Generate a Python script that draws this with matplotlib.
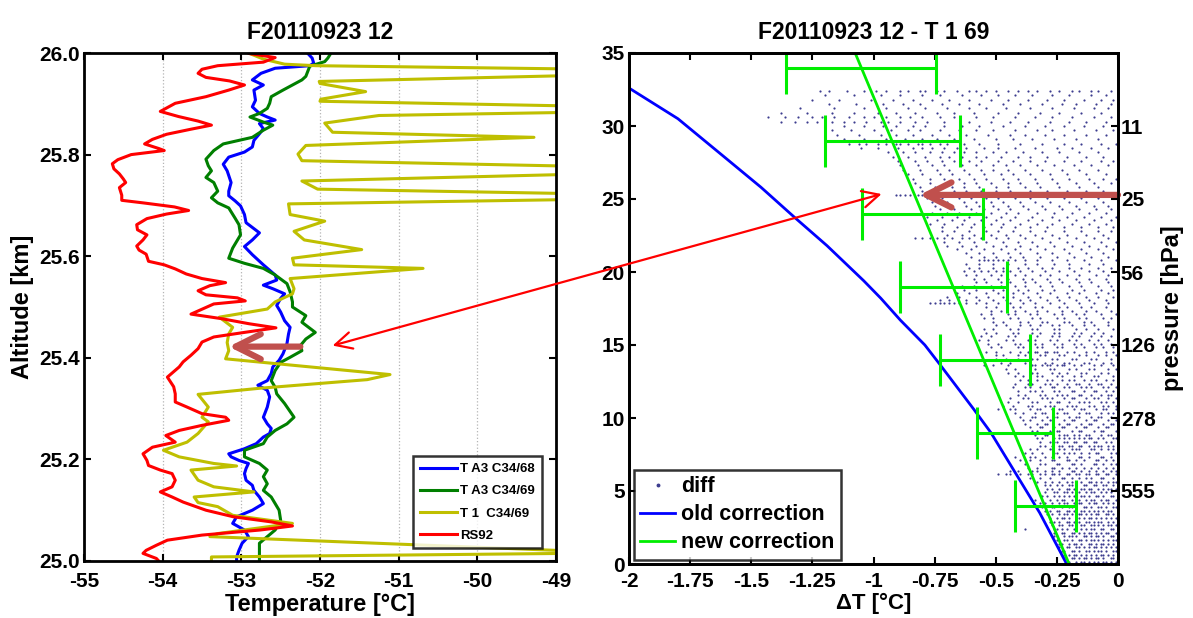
import numpy as np
import matplotlib
matplotlib.use('Agg')
import matplotlib.pyplot as plt
from matplotlib.patches import ConnectionPatch, ArrowStyle
from matplotlib.lines import Line2D

plt.rcParams['font.family'] = ['Liberation Sans', 'DejaVu Sans']
plt.rcParams['font.weight'] = 'bold'
plt.rcParams['axes.labelweight'] = 'bold'
plt.rcParams['axes.titleweight'] = 'bold'
plt.rcParams['axes.unicode_minus'] = False

# ---------------- left panel data ----------------
left_title = "F20110923 12"
rs92_alt = [25.999, 25.991, 25.982, 25.975, 25.968, 25.960, 25.952, 25.945, 25.937, 25.927,
            25.914, 25.901, 25.885, 25.875, 25.866, 25.858, 25.850, 25.840, 25.830, 25.821,
            25.812, 25.808, 25.800, 25.790, 25.782, 25.772, 25.762, 25.752, 25.745, 25.735,
            25.720, 25.710, 25.705, 25.697, 25.690, 25.683, 25.674, 25.662, 25.652, 25.642,
            25.632, 25.620, 25.612, 25.604, 25.590, 25.583, 25.575, 25.565, 25.556, 25.548,
            25.542, 25.532, 25.524, 25.518, 25.512, 25.506, 25.486, 25.477, 25.467, 25.459,
            25.450, 25.441, 25.431, 25.418, 25.405, 25.392, 25.382, 25.362, 25.343, 25.329,
            25.313, 25.303, 25.290, 25.283, 25.277, 25.267, 25.257, 25.247, 25.234, 25.224,
            25.211, 25.198, 25.188, 25.179, 25.172, 25.159, 25.146, 25.136, 25.126, 25.116,
            25.100, 25.087, 25.077, 25.069, 25.061, 25.051, 25.041, 25.031, 25.021, 25.015,
            25.005, 25.000]
rs92_T = [-52.90, -52.57, -52.72, -53.30, -53.50, -53.55, -53.45, -53.15, -52.96, -53.16,
          -53.45, -53.84, -54.03, -53.80, -53.55, -53.38, -53.64, -53.95, -54.13, -54.23,
          -54.05, -53.98, -54.40, -54.57, -54.64, -54.62, -54.55, -54.50, -54.47, -54.55,
          -54.52, -54.52, -54.25, -53.85, -53.67, -53.95, -54.20, -54.33, -54.32, -54.20,
          -54.25, -54.33, -54.30, -54.21, -54.18, -53.98, -53.84, -53.70, -53.50, -53.20,
          -53.40, -53.55, -53.45, -53.05, -52.95, -53.35, -53.64, -53.25, -52.90, -52.56,
          -52.96, -53.35, -53.50, -53.55, -53.64, -53.74, -53.79, -53.94, -53.86, -53.84,
          -53.84, -53.69, -53.50, -53.20, -53.16, -53.50, -53.79, -53.96, -53.84, -54.13,
          -54.25, -54.20, -54.18, -54.03, -53.88, -53.84, -53.88, -54.03, -53.88, -53.74,
          -53.45, -53.10, -52.62, -52.35, -52.76, -53.50, -53.94, -54.08, -54.21, -54.25,
          -54.08, -54.05]

a3_68_alt = [26.000, 25.990, 25.980, 25.975, 25.970, 25.960, 25.947, 25.937, 25.927, 25.907,
             25.894, 25.881, 25.874, 25.868, 25.861, 25.851, 25.841, 25.828, 25.815, 25.805,
             25.795, 25.781, 25.768, 25.745, 25.728, 25.719, 25.709, 25.699, 25.682, 25.666,
             25.646, 25.632, 25.619, 25.603, 25.583, 25.563, 25.553, 25.543, 25.536, 25.526,
             25.517, 25.503, 25.490, 25.473, 25.460, 25.447, 25.428, 25.408, 25.395, 25.382,
             25.369, 25.355, 25.346, 25.336, 25.323, 25.303, 25.283, 25.270, 25.261, 25.251,
             25.244, 25.231, 25.221, 25.211, 25.205, 25.198, 25.192, 25.182, 25.172, 25.159,
             25.149, 25.139, 25.126, 25.113, 25.100, 25.087, 25.074, 25.061, 25.048, 25.035,
             25.021, 25.008, 25.000]
a3_68_T = [-52.16, -52.10, -52.08, -52.13, -52.57, -52.75, -52.86, -52.72, -52.84, -52.82,
           -52.86, -52.77, -52.67, -52.57, -52.77, -52.72, -52.77, -52.84, -52.86, -52.96,
           -53.16, -53.23, -53.18, -53.13, -53.16, -53.16, -53.08, -53.01, -52.96, -52.94,
           -52.77, -52.86, -52.96, -52.86, -52.72, -52.57, -52.55, -52.72, -52.60, -52.45,
           -52.50, -52.55, -52.50, -52.45, -52.38, -52.40, -52.42, -52.47, -52.52, -52.60,
           -52.62, -52.67, -52.79, -52.67, -52.64, -52.67, -52.72, -52.67, -52.62, -52.64,
           -52.72, -52.81, -52.96, -53.16, -53.13, -53.03, -52.91, -52.94, -52.96, -52.94,
           -52.86, -52.84, -52.77, -52.72, -52.86, -53.06, -53.11, -52.96, -52.91, -52.99,
           -53.03, -53.06, -53.06]

a3_69_alt = [26.000, 25.990, 25.983, 25.974, 25.954, 25.947, 25.927, 25.914, 25.901, 25.891,
             25.881, 25.874, 25.864, 25.858, 25.848, 25.834, 25.821, 25.808, 25.791, 25.778,
             25.768, 25.755, 25.745, 25.728, 25.715, 25.705, 25.695, 25.675, 25.662, 25.642,
             25.616, 25.596, 25.586, 25.576, 25.563, 25.546, 25.530, 25.510, 25.500, 25.483,
             25.470, 25.450, 25.437, 25.424, 25.414, 25.401, 25.391, 25.375, 25.355, 25.342,
             25.329, 25.310, 25.283, 25.270, 25.257, 25.244, 25.231, 25.218, 25.205, 25.192,
             25.179, 25.166, 25.152, 25.139, 25.126, 25.113, 25.100, 25.080, 25.061, 25.048,
             25.035, 25.000]
a3_69_T = [-51.86, -51.90, -51.94, -52.13, -52.18, -52.23, -52.47, -52.62, -52.64, -52.67,
           -52.77, -52.89, -52.72, -52.60, -52.72, -52.86, -53.23, -53.35, -53.45, -53.42,
           -53.38, -53.45, -53.35, -53.30, -53.38, -53.30, -53.16, -53.08, -53.03, -53.01,
           -53.11, -53.16, -52.96, -52.72, -52.57, -52.42, -52.38, -52.35, -52.35, -52.18,
           -52.23, -52.06, -52.18, -52.25, -52.23, -52.38, -52.50, -52.57, -52.62, -52.57,
           -52.55, -52.45, -52.33, -52.42, -52.57, -52.67, -52.72, -52.96, -52.96, -52.77,
           -52.67, -52.72, -52.67, -52.72, -52.62, -52.57, -52.52, -52.50, -52.57, -52.67,
           -52.77, -52.77]

t1_69_alt = [26.000, 25.988, 25.978, 25.975, 25.964, 25.944, 25.940, 25.924, 25.909, 25.905,
             25.889, 25.877, 25.862, 25.844, 25.834, 25.818, 25.801, 25.788, 25.770, 25.748,
             25.732, 25.717, 25.703, 25.682, 25.669, 25.649, 25.632, 25.613, 25.596, 25.583,
             25.576, 25.556, 25.536, 25.526, 25.510, 25.496, 25.480, 25.460, 25.447, 25.430,
             25.414, 25.398, 25.367, 25.357, 25.340, 25.328, 25.303, 25.283, 25.274, 25.251,
             25.234, 25.218, 25.205, 25.192, 25.187, 25.179, 25.159, 25.146, 25.136, 25.126,
             25.115, 25.107, 25.090, 25.074, 25.054, 25.048, 25.016, 25.008, 25.000]
t1_69_T = [-52.91, -52.72, -52.45, -52.05, -46.50, -52.01, -52.00, -51.42, -51.99, -52.00,
           -46.50, -51.25, -51.94, -51.84, -49.28, -52.18, -52.28, -52.23, -46.50, -52.23,
           -52.03, -46.50, -52.40, -52.38, -51.94, -52.33, -52.20, -51.47, -52.35, -52.33,
           -50.69, -52.38, -52.33, -52.35, -52.57, -52.67, -53.28, -53.11, -53.16, -53.18,
           -53.16, -53.20, -51.11, -51.40, -52.77, -53.55, -53.42, -53.50, -53.42, -53.55,
           -53.69, -53.99, -53.79, -53.35, -53.06, -53.64, -53.55, -53.35, -52.84, -53.60,
           -53.55, -53.30, -53.11, -52.35, -53.30, -53.40, -48.20, -53.38, -53.38]

left_labels = ["T A3 C34/68", "T A3 C34/69", "T 1  C34/69", "RS92"]
left_colors = ["#0000ff", "#007f00", "#bfbf00", "#ff0000"]

# ---------------- right panel data ----------------
right_title = "F20110923 12 - T 1 69"
old_corr_alt = [0.0, 3.5, 6.25, 9.0, 10.6, 13.7, 15.0, 16.7, 18.2, 19.4, 21.8, 23.7, 25.8, 27.6, 30.5, 32.6]
old_corr_dT = [-0.21, -0.32, -0.42, -0.52, -0.59, -0.73, -0.79, -0.89, -0.97, -1.04, -1.19, -1.32, -1.46, -1.59, -1.80, -2.00]
new_corr_alt = [0.0, 35.0]
new_corr_dT = [-0.20, -1.075]
err_alt = [4, 9, 14, 19, 24, 29, 34]
err_center = [-0.296, -0.420, -0.544, -0.673, -0.799, -0.923, -1.050]
err_half = [0.124, 0.155, 0.186, 0.218, 0.246, 0.277, 0.306]
pressure_alt = [5, 10, 15, 20, 25, 30]
pressure_lbl = ["555", "278", "126", "56", "25", "11"]

# scatter "diff": rows of points; altitude [km] and -ΔT in hundredths of °C
diff_row_alt = [32.4, 32.1, 31.8, 31.5, 31.2, 30.9, 30.6, 30.3, 30.0, 29.7, 29.4, 29.1, 28.8, 28.5,
                28.2, 27.9, 27.6, 27.3, 27.0, 26.7, 26.4, 26.1, 25.8, 25.55, 25.3, 25.05, 24.8,
                24.55, 24.3, 24.05, 23.8, 23.55, 23.3, 23.05, 22.8, 22.55, 22.3, 22.05, 21.8,
                21.55, 21.3, 21.05, 20.8, 20.55, 20.3, 20.05, 19.8, 19.55, 19.3, 19.05, 18.8,
                18.55, 18.3, 18.05, 17.85, 17.6, 17.35, 17.1, 16.85, 16.6, 16.35, 16.1, 15.85,
                15.6, 15.35, 15.1, 14.85, 14.55, 14.3, 14.05, 13.8, 13.6, 13.35, 13.1, 12.85,
                12.6, 12.35, 12.1, 11.85, 11.6, 11.35, 11.1, 10.85, 10.6, 10.35, 10.1, 9.85,
                9.6, 9.35, 9.1, 8.85, 8.6, 8.35, 8.1, 7.85, 7.6, 7.35, 7.1, 6.85, 6.6, 6.35,
                6.15, 5.9, 5.65, 5.4, 5.15, 4.9, 4.65, 4.4, 4.15, 3.9, 3.65, 3.4, 3.15, 2.9,
                2.65, 2.4, 2.15, 1.9, 1.65, 1.4, 1.15, 0.9, 0.65, 0.4, 0.15]
diff_row_negdT = [
    [122, 118, 111, 104, 99, 95, 89, 86, 81, 79, 74, 71, 66, 61, 58, 54, 50, 45, 41, 37, 33, 28, 24, 19, 16, 11, 8, 3],
    [120, 108, 97, 89, 80, 73, 64, 56, 49, 42, 35, 27, 20, 11, 5],
    [125, 114, 101, 92, 84, 76, 69, 61, 52, 45, 37, 29, 22, 14, 7, 2],
    [118, 107, 96, 88, 81, 72, 65, 57, 47, 40, 31, 23, 17, 9, 3],
    [130, 116, 104, 95, 86, 79, 70, 61, 54, 46, 36, 27, 18, 10, 4],
    [138, 127, 117, 108, 98, 91, 83, 74, 67, 59, 49, 41, 32, 24, 15, 7],
    [143, 136, 131, 125, 121, 116, 110, 104, 100, 95, 89, 85, 80, 73, 67, 58, 51, 42, 34, 27, 19, 10, 3],
    [138, 132, 127, 123, 117, 112, 108, 103, 97, 94, 89, 83, 78, 71, 61, 52, 44, 37, 28, 20, 13, 5],
    [120, 112, 104, 96, 91, 84, 79, 71, 64, 57, 47, 38, 30, 22, 14, 6],
    [117, 109, 100, 93, 86, 81, 73, 65, 58, 51, 42, 33, 27, 18, 9, 2],
    [115, 106, 97, 91, 84, 76, 69, 62, 53, 44, 38, 30, 22, 13, 5],
    [112, 104, 95, 87, 80, 74, 67, 59, 50, 43, 35, 26, 17, 8],
    [110, 106, 103, 98, 95, 91, 89, 86, 82, 80, 77, 73, 70, 63, 57, 49, 40, 31, 22, 15, 7, 1],
    [105, 98, 90, 84, 80, 76, 71, 66, 62, 55, 49, 42, 34, 25, 19, 11, 4],
    [94, 88, 83, 77, 72, 67, 63, 58, 51, 46, 39, 31, 24, 16, 8],
    [92, 86, 79, 73, 69, 64, 58, 54, 48, 41, 36, 29, 21, 13, 6],
    [90, 83, 78, 72, 67, 61, 56, 49, 43, 36, 30, 22, 15, 7, 2],
    [89, 82, 76, 71, 64, 58, 51, 46, 40, 33, 26, 18, 11, 4],
    [88, 81, 74, 69, 63, 56, 51, 45, 38, 31, 23, 16, 8],
    [86, 80, 73, 68, 61, 55, 48, 43, 36, 28, 21, 13, 5],
    [84, 77, 71, 65, 59, 54, 47, 41, 34, 27, 20, 12, 6, 1],
    [83, 77, 70, 63, 58, 52, 45, 40, 33, 25, 17, 10, 3],
    [81, 75, 68, 63, 57, 50, 45, 38, 32, 24, 16, 8],
    [80, 74, 67, 62, 56, 50, 44, 36, 29, 21, 13, 6],
    [91, 89, 87, 85, 82, 80, 76, 72, 69, 64, 60, 56, 52, 48, 43, 40, 35, 30, 26, 20, 15, 10, 5],
    [78, 72, 65, 60, 54, 49, 42, 36, 29, 22, 15, 8, 2],
    [76, 70, 63, 58, 52, 47, 40, 34, 28, 20, 13, 6],
    [75, 69, 62, 57, 51, 45, 39, 31, 24, 17, 10, 4],
    [73, 67, 60, 55, 49, 44, 37, 30, 23, 16, 9, 3],
    [76, 70, 65, 58, 52, 46, 41, 33, 26, 19, 12, 5],
    [78, 72, 66, 61, 54, 48, 42, 35, 27, 21, 14, 7, 1],
    [74, 68, 63, 56, 50, 44, 37, 31, 24, 17, 10, 3],
    [77, 71, 64, 59, 52, 47, 40, 33, 27, 19, 12, 5],
    [72, 66, 60, 55, 48, 42, 36, 29, 22, 15, 8, 2],
    [72, 67, 61, 54, 49, 43, 36, 30, 22, 15, 8, 3],
    [70, 64, 59, 52, 46, 40, 34, 27, 21, 13, 6],
    [83, 80, 77, 74, 71, 68, 64, 61, 56, 50, 45, 38, 31, 24, 17, 10, 4],
    [71, 65, 59, 54, 47, 41, 35, 28, 21, 14, 7, 1],
    [70, 64, 58, 51, 46, 40, 33, 26, 19, 12, 5],
    [66, 60, 55, 48, 42, 36, 30, 22, 15, 8, 2],
    [62, 57, 51, 45, 40, 33, 27, 20, 13, 6],
    [60, 55, 50, 44, 39, 32, 25, 18, 11, 4],
    [57, 55, 53, 51, 49, 47, 45, 42, 38, 33, 27, 21, 14, 7, 1],
    [62, 57, 51, 45, 38, 33, 26, 20, 12, 6],
    [61, 57, 51, 47, 41, 37, 31, 27, 20, 15, 8, 3],
    [63, 59, 56, 53, 50, 47, 44, 40, 35, 30, 24, 18, 12, 6],
    [62, 58, 52, 48, 42, 38, 32, 28, 21, 16, 9, 4],
    [59, 55, 49, 45, 39, 35, 29, 24, 17, 12, 5],
    [58, 54, 48, 44, 38, 34, 28, 23, 16, 11, 4],
    [64, 59, 52, 48, 42, 38, 32, 27, 20, 15, 8, 3],
    [63, 58, 51, 47, 41, 37, 31, 26, 19, 14, 7, 2],
    [66, 61, 54, 49, 43, 39, 33, 28, 21, 16, 9, 4],
    [70, 65, 58, 53, 47, 43, 37, 32, 25, 20, 13, 8, 2],
    [73, 69, 62, 57, 51, 46, 40, 36, 29, 24, 17, 12, 5],
    [77, 75, 73, 71, 69, 67, 65, 62, 58, 54, 49, 44, 39, 34, 28, 22, 16, 10, 4],
    [54, 50, 43, 40, 34, 31, 24, 21, 15, 11, 5],
    [52, 48, 42, 38, 33, 29, 23, 19, 13, 9, 3],
    [56, 52, 45, 42, 36, 33, 26, 23, 17, 14, 7, 1],
    [55, 51, 44, 41, 35, 32, 25, 22, 16, 13, 6, 3],
    [51, 47, 40, 37, 31, 29, 22, 20, 14, 11, 4],
    [50, 46, 40, 36, 32, 27, 24, 19, 14, 10, 4],
    [55, 51, 44, 41, 35, 33, 26, 24, 17, 13, 8, 2],
    [54, 50, 43, 41, 35, 32, 26, 24, 18, 15, 10, 6],
    [56, 52, 45, 42, 36, 33, 27, 24, 19, 16, 11, 7, 3],
    [57, 53, 46, 43, 37, 34, 28, 25, 20, 17, 12, 8, 4],
    [53, 49, 42, 40, 34, 31, 26, 23, 18, 15, 10, 7, 3],
    [52, 48, 41, 39, 33, 31, 25, 23, 17, 14, 9, 6, 2],
    [54, 50, 44, 40, 37, 34, 33, 30, 29, 26, 25, 21, 18, 13, 10, 5, 2],
    [50, 47, 41, 38, 32, 30, 24, 22, 16, 13, 8, 5, 1],
    [50, 46, 41, 35, 33, 27, 25, 19, 17, 11, 9, 3],
    [48, 44, 38, 36, 30, 27, 22, 20, 14, 12, 6, 3],
    [55, 51, 45, 35, 34, 31, 29, 28, 25, 23, 22, 18, 15, 10, 7, 2],
    [46, 42, 36, 34, 28, 26, 20, 17, 12, 10, 4, 1],
    [45, 41, 35, 33, 27, 24, 21, 15, 13, 7, 4],
    [42, 39, 33, 31, 25, 23, 18, 15, 10, 8, 2],
    [40, 37, 33, 29, 27, 23, 20, 18, 14, 11, 9, 5, 2],
    [42, 37, 35, 30, 28, 25, 21, 17, 16, 12, 8, 7, 3],
    [43, 38, 36, 32, 27, 26, 22, 20, 15, 13, 11, 6, 4, 1],
    [41, 36, 34, 31, 26, 24, 19, 18, 14, 10, 9, 5, 2],
    [41, 38, 32, 30, 25, 23, 21, 16, 15, 11, 7, 4, 3],
    [44, 39, 37, 31, 29, 27, 22, 19, 18, 13, 10, 8, 4, 1],
    [45, 41, 35, 33, 28, 25, 24, 20, 16, 14, 12, 7, 5, 2],
    [47, 43, 37, 35, 30, 28, 26, 21, 19, 17, 12, 10, 6, 4, 1],
    [49, 44, 42, 36, 33, 32, 27, 24, 23, 18, 15, 14, 9, 6, 5, 1],
    [42, 39, 34, 31, 30, 25, 22, 21, 16, 13, 12, 7, 4, 2],
    [40, 35, 34, 29, 26, 25, 20, 17, 16, 11, 8, 7, 3],
    [39, 36, 31, 28, 27, 22, 19, 18, 13, 10, 9, 4, 1],
    [38, 33, 30, 29, 24, 21, 20, 15, 12, 11, 6, 3, 2],
    [36, 32, 31, 26, 23, 22, 17, 14, 13, 8, 5, 4],
    [35, 33, 28, 25, 24, 19, 16, 15, 10, 7, 6, 1],
    [34, 30, 29, 24, 22, 21, 18, 16, 13, 12, 7, 4, 3],
    [33, 31, 26, 24, 22, 20, 18, 16, 14, 12, 11, 8, 6, 2, 1],
    [32, 28, 26, 25, 22, 21, 18, 17, 14, 13, 10, 9, 5, 3],
    [32, 30, 27, 24, 23, 20, 19, 16, 15, 12, 10, 8, 7, 4, 2],
    [36, 33, 28, 27, 24, 22, 19, 17, 16, 11, 10, 7, 4, 2],
    [38, 35, 31, 26, 25, 22, 20, 18, 15, 12, 9, 8, 3, 1],
    [42, 36, 34, 30, 27, 24, 21, 16, 15, 12, 7, 6, 3],
    [40, 36, 32, 27, 26, 21, 20, 17, 14, 9, 8, 5, 2],
    [38, 32, 30, 25, 24, 19, 18, 15, 10, 9, 6, 3, 1],
    [37, 33, 27, 26, 23, 20, 17, 14, 11, 8, 5, 2],
    [44, 41, 35, 33, 30, 27, 24, 19, 18, 15, 12, 9, 6, 3, 1],
    [49, 46, 44, 40, 37, 35, 32, 30, 27, 26, 24, 21, 20, 17, 16, 13, 12, 9, 8, 5, 4, 1],
    [36, 32, 28, 23, 22, 19, 16, 13, 11, 7, 6, 2],
    [33, 30, 27, 24, 21, 19, 17, 15, 12, 11, 9, 7, 4, 2, 1],
    [30, 28, 25, 23, 20, 19, 17, 14, 13, 10, 9, 6, 5, 2],
    [29, 27, 24, 21, 20, 18, 15, 14, 12, 11, 8, 6, 4, 3, 1],
    [30, 26, 25, 22, 21, 19, 17, 16, 13, 11, 10, 7, 5, 3],
    [31, 29, 26, 24, 22, 20, 18, 15, 14, 12, 9, 8, 6, 3, 2],
    [34, 31, 28, 25, 23, 22, 19, 17, 16, 13, 11, 10, 7, 5, 4, 1],
    [32, 30, 27, 24, 22, 21, 18, 16, 15, 12, 10, 9, 6, 4, 2],
    [31, 27, 26, 23, 20, 19, 17, 14, 13, 11, 8, 7, 5, 2, 1],
    [30, 28, 25, 24, 21, 20, 18, 15, 14, 12, 10, 8, 6, 4, 3],
    [29, 27, 24, 22, 21, 19, 16, 15, 13, 11, 9, 8, 5, 4, 2],
    [28, 25, 23, 22, 20, 17, 16, 14, 12, 11, 9, 7, 5, 3, 1],
    [28, 26, 24, 21, 20, 18, 16, 13, 12, 10, 8, 7, 4, 2],
    [27, 24, 23, 20, 19, 17, 15, 14, 11, 10, 8, 6, 4, 3, 1],
    [38, 26, 25, 23, 21, 18, 17, 15, 13, 11, 10, 7, 6, 3, 2],
    [26, 23, 22, 19, 18, 16, 14, 12, 11, 9, 7, 5, 4, 1],
    [26, 25, 22, 20, 19, 17, 14, 13, 11, 9, 8, 6, 3, 2],
    [25, 22, 21, 19, 16, 15, 13, 11, 10, 8, 6, 4, 2, 1],
    [24, 23, 20, 18, 17, 15, 12, 11, 9, 7, 6, 4, 2],
    [24, 21, 20, 17, 16, 14, 12, 10, 9, 7, 5, 3, 1],
    [23, 22, 19, 18, 16, 13, 12, 10, 8, 7, 5, 2, 1],
    [22, 20, 18, 17, 15, 13, 11, 9, 7, 6, 4, 2],
    [22, 19, 18, 16, 14, 13, 11, 9, 8, 6, 3, 2],
    [21, 20, 17, 15, 14, 12, 10, 8, 6, 5, 3, 1],
]

diff_alt = np.concatenate([[a] * len(r) for a, r in zip(diff_row_alt, diff_row_negdT)])
diff_dT = -np.concatenate([np.asarray(r, dtype=float) for r in diff_row_negdT]) / 100.0

# ---------------- figure ----------------
W, H = 1193, 618
fig = plt.figure(figsize=(W / 100, H / 100), dpi=100)
ax1 = fig.add_axes([84 / W, 1 - 561 / H, (556 - 84) / W, (561 - 53) / H])
ax2 = fig.add_axes([629 / W, 1 - 564 / H, (1118 - 629) / W, (564 - 53) / H])

tick_fs = 15
lab_fs = 17

# left
for alt, T, c, lab in zip([a3_68_alt, a3_69_alt, t1_69_alt, rs92_alt],
                          [a3_68_T, a3_69_T, t1_69_T, rs92_T], left_colors, left_labels):
    ax1.plot(T, alt, color=c, lw=2.2, label=lab)
ax1.set_xlim(-55, -49)
ax1.set_ylim(25.0, 26.0)
ax1.set_xticks(np.arange(-55, -48, 1))
ax1.set_yticks(np.arange(25.0, 26.01, 0.2))
ax1.set_yticklabels([f"{v:.1f}" for v in np.arange(25.0, 26.01, 0.2)])
ax1.grid(axis='x', color='#b4b4b4', ls=':', lw=0.9)
ax1.set_xlabel("Temperature [°C]", fontsize=lab_fs, labelpad=1)
ax1.set_ylabel("Altitude [km]", fontsize=lab_fs, labelpad=4)
ax1.set_title(left_title, fontsize=16.5, pad=10)
ax1.tick_params(direction='in', top=True, right=True, labelsize=tick_fs, width=1.5, length=5, pad=3)
ax1.tick_params(axis='x', pad=8)
leg1 = ax1.legend(loc='lower right', bbox_to_anchor=(0.970, 0.025), borderaxespad=0,
                  fontsize=9.5, frameon=True, fancybox=False, edgecolor='black',
                  handlelength=2.8, borderpad=0.5, labelspacing=0.75, handletextpad=0.3)
leg1.get_frame().set_linewidth(1.8)

ax1.annotate('', xy=(-53.16, 25.422), xytext=(-52.25, 25.422),
             arrowprops=dict(arrowstyle=ArrowStyle('->', head_length=1.8, head_width=0.9),
                             mutation_scale=10, lw=4.5, color='#c0504d', shrinkA=0, shrinkB=0,
                             capstyle='round'))

# right
ax2.scatter(diff_dT, diff_alt, s=2.5, color='#3d3d8f', marker='o', linewidths=0, label='diff')
ax2.plot(old_corr_dT, old_corr_alt, color='#0000ff', lw=2, label='old correction')
ax2.plot(new_corr_dT, new_corr_alt, color='#00ee00', lw=2, label='new correction')
ax2.errorbar(err_center, err_alt, xerr=err_half, fmt='none', ecolor='#00ee00', elinewidth=2.2,
             capsize=19, capthick=2.2)
ax2.set_xlim(-2, 0)
ax2.set_ylim(0, 35)
ax2.set_xticks(np.arange(-2, 0.01, 0.25))
ax2.set_xticklabels(["-2", "-1.75", "-1.5", "-1.25", "-1", "-0.75", "-0.5", "-0.25", "0"])
ax2.set_yticks(np.arange(0, 36, 5))
ax2.set_xlabel("ΔT [°C]", fontsize=16, labelpad=1)
ax2.set_title(right_title, fontsize=16.5, pad=10)
ax2.tick_params(direction='in', top=True, right=False, labelsize=tick_fs, width=1.5, length=5, pad=3)
ax2.tick_params(axis='x', pad=6)

ax2r = ax2.twinx()
ax2r.set_ylim(0, 35)
ax2r.set_yticks(pressure_alt)
ax2r.set_yticklabels(pressure_lbl)
ax2r.set_ylabel("pressure [hPa]", fontsize=lab_fs, labelpad=4)
ax2r.tick_params(direction='in', labelsize=tick_fs, width=1.5, length=5, pad=2)

handles = [Line2D([], [], ls='none', marker='o', ms=1.8, color='#3d3d8f'),
           Line2D([], [], color='#0000ff', lw=2),
           Line2D([], [], color='#00ee00', lw=2)]
leg2 = ax2.legend(handles, ['diff', 'old correction', 'new correction'], loc='lower left',
                  bbox_to_anchor=(0.010, 0.008), borderaxespad=0, fontsize=15.5, frameon=True,
                  fancybox=False, edgecolor='black', handlelength=1.6, borderpad=0.3,
                  labelspacing=0.33, handletextpad=0.3)
leg2.get_frame().set_linewidth(1.8)

ax2.annotate('', xy=(-0.812, 25.28), xytext=(0.0, 25.28),
             arrowprops=dict(arrowstyle=ArrowStyle('->', head_length=1.8, head_width=0.9),
                             mutation_scale=10, lw=4.5, color='#c0504d', shrinkA=0, shrinkB=0,
                             capstyle='round'), zorder=5)

for ax in (ax1, ax2, ax2r):
    for s in ax.spines.values():
        s.set_linewidth(2)

con = ConnectionPatch(xyA=(-51.84, 25.424), coordsA=ax1.transData,
                      xyB=(-0.967, 25.34), coordsB=ax2.transData,
                      arrowstyle=ArrowStyle('<->', head_length=0.6, head_width=0.3),
                      mutation_scale=20, color='#ff0000', lw=1.6, shrinkA=0, shrinkB=0)
fig.add_artist(con)

fig.savefig('out.png', dpi=100)
